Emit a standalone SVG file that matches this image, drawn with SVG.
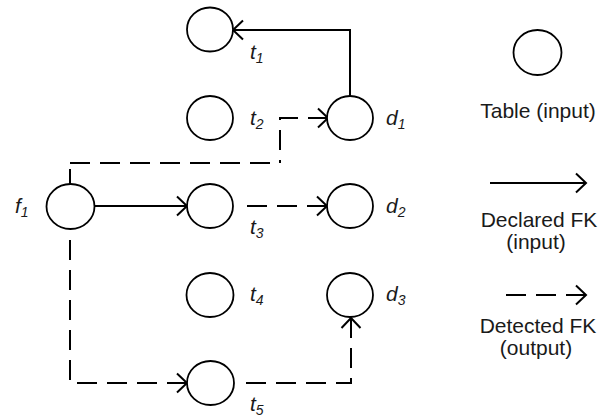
<svg xmlns="http://www.w3.org/2000/svg" width="607" height="417" viewBox="0 0 607 417">
<style>
.node{fill:#fff;stroke:#000;stroke-width:1.8}
.lbl{font-family:"Liberation Sans",Arial,sans-serif;font-style:italic;font-size:21px;fill:#1a1a1a}
.sub{font-size:14px}
.leg{font-family:"Liberation Sans",Arial,sans-serif;font-size:21px;fill:#1a1a1a;text-anchor:middle}
.solid{fill:none;stroke:#000;stroke-width:2}
.dash{fill:none;stroke:#000;stroke-width:2;stroke-dasharray:20 10}
</style>
<defs>
<marker id="arr" viewBox="-13 -12 15 24" refX="0" refY="0" markerWidth="15" markerHeight="24" markerUnits="userSpaceOnUse" orient="auto-start-reverse">
<path d="M-10,-9.5 L0,0 L-10,9.5" fill="none" stroke="#000" stroke-width="2"/>
</marker>
</defs>
<g id="connectors">
<path class="solid" d="M350,96 V30 H233" marker-end="url(#arr)"/>
<path class="solid" d="M95,206 H187" marker-end="url(#arr)"/>
<path class="dash" d="M328,118 H280 V163" marker-start="url(#arr)"/>
<path class="dash" d="M70,163 H280"/>
<path class="solid" d="M70,169 V184"/>
<path class="dash" d="M327,206 H237" marker-start="url(#arr)"/>
<path class="dash" d="M187,383 H70 V236" marker-start="url(#arr)"/>
<path class="dash" d="M351,318 V383 H237" marker-start="url(#arr)"/>
</g>
<g id="t1"><ellipse class="node" cx="210" cy="29.5" rx="23" ry="22"/><text class="lbl" x="250" y="59">t<tspan class="sub" dy="4">1</tspan></text></g>
<g id="t2"><ellipse class="node" cx="210" cy="118" rx="23" ry="22"/><text class="lbl" x="250" y="125">t<tspan class="sub" dy="4">2</tspan></text></g>
<g id="d1"><ellipse class="node" cx="350" cy="118" rx="23" ry="22"/><text class="lbl" x="386" y="125">d<tspan class="sub" dy="4">1</tspan></text></g>
<g id="f1"><ellipse class="node" cx="70.5" cy="206.5" rx="24" ry="22.5"/><text class="lbl" x="15" y="213">f<tspan class="sub" dy="4">1</tspan></text></g>
<g id="t3"><ellipse class="node" cx="210" cy="206" rx="23" ry="22"/><text class="lbl" x="250" y="234">t<tspan class="sub" dy="4">3</tspan></text></g>
<g id="d2"><ellipse class="node" cx="350" cy="206" rx="23" ry="22"/><text class="lbl" x="386" y="213">d<tspan class="sub" dy="4">2</tspan></text></g>
<g id="t4"><ellipse class="node" cx="210" cy="295" rx="23.5" ry="22"/><text class="lbl" x="250" y="301">t<tspan class="sub" dy="4">4</tspan></text></g>
<g id="d3"><ellipse class="node" cx="350" cy="295" rx="23" ry="22"/><text class="lbl" x="386" y="301">d<tspan class="sub" dy="4">3</tspan></text></g>
<g id="t5"><ellipse class="node" cx="210.5" cy="383" rx="23.5" ry="22"/><text class="lbl" x="250" y="411">t<tspan class="sub" dy="4">5</tspan></text></g>
<g id="legend">
<ellipse class="node" cx="537.5" cy="52.5" rx="24" ry="22.5"/>
<text class="leg" x="538" y="118">Table (input)</text>
<path class="solid" d="M490,183 H586" marker-end="url(#arr)"/>
<text class="leg" x="539" y="227">Declared FK</text>
<text class="leg" x="536" y="249">(input)</text>
<path class="dash" d="M586,295 H503" marker-start="url(#arr)"/>
<text class="leg" x="538" y="333">Detected FK</text>
<text class="leg" x="536" y="355">(output)</text>
</g>
</svg>
